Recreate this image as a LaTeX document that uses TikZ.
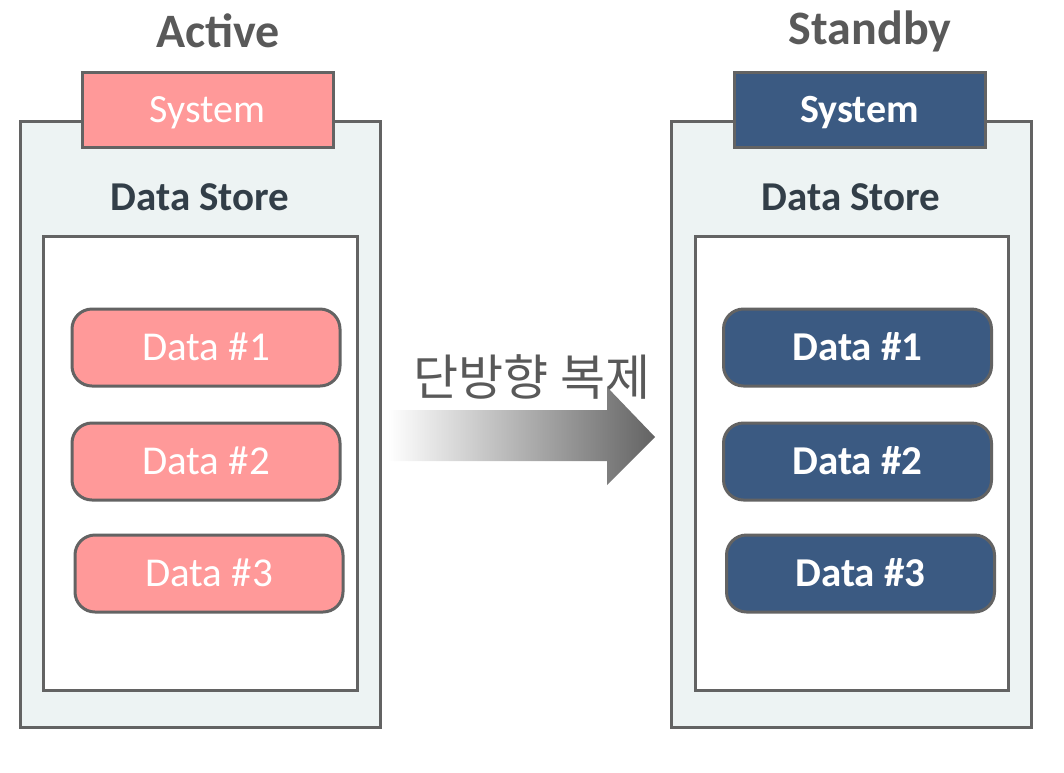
\documentclass[tikz,border=0pt]{standalone}
\usepackage{fontspec}
\setmainfont{Carlito}
\newfontfamily\krfont{Noto Sans CJK KR}
\usetikzlibrary{positioning}

\definecolor{linegray}{HTML}{636363}
\definecolor{panelbg}{HTML}{EDF3F3}
\definecolor{actpink}{HTML}{FF9999}
\definecolor{sbyblue}{HTML}{3B5A82}
\definecolor{titlegray}{HTML}{595959}
\definecolor{storetext}{HTML}{323E48}

\begin{document}
\begin{tikzpicture}[x=1pt, y=-1pt,
    panel/.style={draw=linegray, line width=3pt, fill=panelbg},
    innerbox/.style={draw=linegray, line width=3pt, fill=white},
    tab/.style={draw=linegray, line width=3pt, minimum width=251pt, minimum height=75pt,
      text=white, font=\fontsize{40}{48}\selectfont, text height=26pt, text depth=0pt},
    datab/.style={draw=linegray, line width=3pt, rounded corners=20pt, minimum width=268pt,
      minimum height=77pt, text=white, font=\fontsize{41}{48}\selectfont,
      text height=26pt, text depth=0pt},
    title/.style={text=titlegray, font=\fontsize{48}{56}\selectfont\bfseries},
    store/.style={text=storetext, font=\fontsize{41}{48}\selectfont\bfseries}]
  \useasboundingbox (0,0) rectangle (1064,772);

  % Active
  \begin{scope}[shift={(0,0)}]
    \draw[panel] (20,121) rectangle (380,727);
    \node[tab, fill=actpink] (actSys) at (207.5,109.5) {System};
    \node[title] (actTitle) at (218,31) {Active};
    \node[store] (actStore) at (200,197) {Data Store};
    \draw[innerbox] (43,236) rectangle (357,690);
    \node[datab, fill=actpink] (actD1) at (206,347.5) {Data \#1};
    \node[datab, fill=actpink, below=34pt of actD1] (actD2) {Data \#2};
    \node[datab, fill=actpink, below=32pt of actD2, xshift=3pt] (actD3) {Data \#3};
  \end{scope}

  % Standby
  \begin{scope}[shift={(651,0)}]
    \draw[panel] (20,121) rectangle (380,727);
    \node[tab, fill=sbyblue, font=\fontsize{40}{48}\selectfont\bfseries] (sbySys) at (208.5,109.5) {System};
    \node[title] (sbyTitle) at (219,31) {Standby};
    \node[store] (sbyStore) at (200,197) {Data Store};
    \draw[innerbox] (44,236) rectangle (357,690);
    \node[datab, fill=sbyblue, font=\fontsize{41}{48}\selectfont\bfseries] (sbyD1) at (206.5,347.5) {Data \#1};
    \node[datab, fill=sbyblue, font=\fontsize{41}{48}\selectfont\bfseries, below=34pt of sbyD1] (sbyD2) {Data \#2};
    \node[datab, fill=sbyblue, font=\fontsize{41}{48}\selectfont\bfseries, below=32pt of sbyD2, xshift=3pt] (sbyD3) {Data \#3};
  \end{scope}

  % replication arrow
  \shade[left color=white, right color=linegray]
    (388,410) -- (607,410) -- (607,387) -- (655,437) -- (607,485) -- (607,461) -- (388,461) -- cycle;
  \node[text=titlegray, font=\krfont\fontsize{49}{56}\selectfont] (repl) at (532,377) {단방향 복제};
\end{tikzpicture}
\end{document}
